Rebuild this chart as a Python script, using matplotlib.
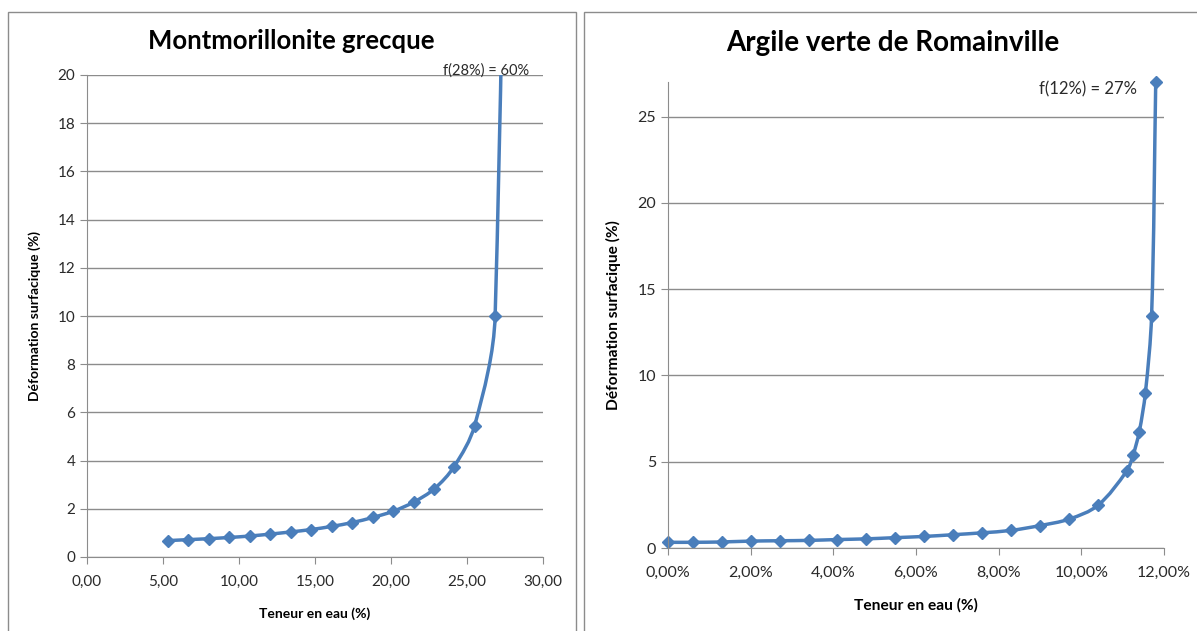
import numpy as np
import matplotlib.pyplot as plt
from matplotlib.path import Path
from matplotlib.patches import PathPatch, Rectangle
from matplotlib.ticker import FuncFormatter

plt.rcParams['font.family'] = ['Lato', 'DejaVu Sans']

# Montmorillonite grecque
x_mont = [5.3, 6.65, 8.0, 9.35, 10.7, 12.05, 13.4, 14.75, 16.1, 17.45, 18.8, 20.15,
          21.5, 22.85, 24.15, 25.5, 26.85, 28.0]
y_mont = [0.68, 0.72, 0.76, 0.81, 0.87, 0.95, 1.04, 1.14, 1.27, 1.43, 1.64, 1.90,
          2.28, 2.83, 3.75, 5.45, 10.0, 60.0]

# Argile verte de Romainville (x en %)
x_rom = [0.0, 0.6, 1.3, 2.0, 2.7, 3.4, 4.1, 4.8, 5.5, 6.2, 6.9, 7.6, 8.3, 9.0,
         9.7, 10.4, 11.1, 11.25, 11.4, 11.55, 11.7, 11.8]
y_rom = [0.33, 0.33, 0.35, 0.40, 0.42, 0.44, 0.49, 0.53, 0.60, 0.67, 0.77, 0.88,
         1.02, 1.30, 1.67, 2.47, 4.47, 5.37, 6.72, 9.0, 13.47, 27.0]

BLUE = '#4A7EBB'
GRID = '#8c8c8c'
TXT = '#2a2a2a'


def smooth_path(xs, ys, xr, yr):
    # courbe lissée façon Excel : Bézier, tangentes calculées en unités normalisées
    p = np.column_stack([np.asarray(xs) / xr, np.asarray(ys) / yr])
    n = len(p)
    tang = []
    for i in range(n):
        a = p[max(i - 1, 0)]
        b = p[min(i + 1, n - 1)]
        d = b - a
        tang.append(d / np.hypot(*d))
    verts = [p[0]]
    codes = [Path.MOVETO]
    for i in range(n - 1):
        L = np.hypot(*(p[i + 1] - p[i])) / 3
        verts += [p[i] + tang[i] * L, p[i + 1] - tang[i + 1] * L, p[i + 1]]
        codes += [Path.CURVE4] * 3
    verts = np.array(verts) * [xr, yr]
    return Path(verts, codes)


def style(ax, fs_tick, fs_lab):
    for s in ['top', 'right']:
        ax.spines[s].set_visible(False)
    for s in ['left', 'bottom']:
        ax.spines[s].set_color(GRID)
    ax.grid(axis='y', color=GRID, lw=1)
    ax.set_axisbelow(True)
    ax.tick_params(colors=GRID, labelcolor=TXT, labelsize=fs_tick, length=5)
    ax.tick_params(axis='x', pad=8)
    ax.set_xlabel('Teneur en eau (%)', fontsize=fs_lab, fontweight='bold', labelpad=13)
    ax.set_ylabel('Déformation surfacique (%)', fontsize=fs_lab, fontweight='bold', labelpad=12)


fig = plt.figure(figsize=(11.97, 6.31), dpi=100)
fig.patches.append(Rectangle((8 / 1197, -0.01), 568 / 1197, 1 - 12 / 631 + 0.01,
                             transform=fig.transFigure, fill=False, ec='#8c8c8c', lw=1))
fig.patches.append(Rectangle((584 / 1197, -0.01), 620 / 1197, 1 - 12 / 631 + 0.01,
                             transform=fig.transFigure, fill=False, ec='#8c8c8c', lw=1))

ax1 = fig.add_axes([87 / 1197, 1 - 557 / 631, 456 / 1197, 482 / 631])
ax1.add_patch(PathPatch(smooth_path(x_mont, y_mont, 30, 20), fill=False, ec=BLUE, lw=2.5))
ax1.plot(x_mont, y_mont, ls='none', marker='D', ms=6.5, color=BLUE)
ax1.set_xlim(0, 30)
ax1.set_ylim(0, 20)
ax1.set_xticks(np.arange(0, 31, 5))
ax1.set_yticks(np.arange(0, 21, 2))
ax1.xaxis.set_major_formatter(FuncFormatter(lambda v, p: f'{v:.2f}'.replace('.', ',')))
style(ax1, 11, 10)
fig.text(291 / 1197, 1 - 41 / 631, 'Montmorillonite grecque', fontsize=18.5,
         fontweight='bold', ha='center', va='center')
ax1.text(26.25, 20.2, 'f(28%) = 60%', fontsize=10.5, color=TXT, ha='center', va='center')

ax2 = fig.add_axes([668 / 1197, 1 - 548 / 631, 496 / 1197, 466 / 631])
ax2.add_patch(PathPatch(smooth_path(x_rom, y_rom, 12, 27), fill=False, ec=BLUE, lw=2.5))
ax2.plot(x_rom, y_rom, ls='none', marker='D', ms=6.5, color=BLUE, clip_on=False)
ax2.set_xlim(0, 12)
ax2.set_ylim(0, 27)
ax2.set_xticks(np.arange(0, 13, 2))
ax2.set_yticks(np.arange(0, 26, 5))
ax2.xaxis.set_major_formatter(FuncFormatter(lambda v, p: f'{v:.2f}'.replace('.', ',') + '%'))
style(ax2, 11.5, 11.2)
fig.text(893 / 1197, 1 - 43 / 631, 'Argile verte de Romainville', fontsize=20,
         fontweight='bold', ha='center', va='center')
ax2.text(10.16, 26.55, 'f(12%) = 27%', fontsize=12, color=TXT, ha='center', va='center')

fig.savefig('out.png', dpi=100)
